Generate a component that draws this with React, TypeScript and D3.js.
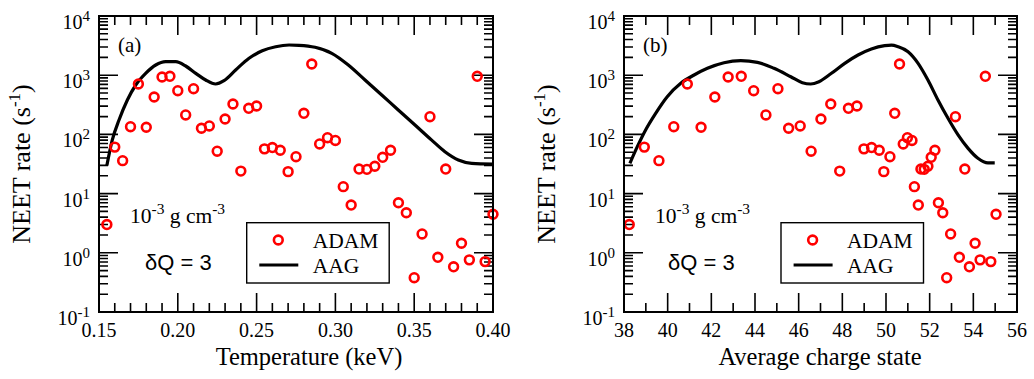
import React from "react";
import * as d3 from "d3";

// ADAM rates, sampled every 5 eV in temperature
const temperature = [
  0.155, 0.16, 0.165, 0.17, 0.175, 0.18, 0.185, 0.19, 0.195, 0.2,
  0.205, 0.21, 0.215, 0.22, 0.225, 0.23, 0.235, 0.24, 0.245, 0.25,
  0.255, 0.26, 0.265, 0.27, 0.275, 0.28, 0.285, 0.29, 0.295, 0.3,
  0.305, 0.31, 0.315, 0.32, 0.325, 0.33, 0.335, 0.34, 0.345, 0.35,
  0.355, 0.36, 0.365, 0.37, 0.375, 0.38, 0.385, 0.39, 0.395, 0.4,
];
const chargeState = [
  38.24, 38.93, 39.6, 40.28, 40.9, 41.53, 42.16, 42.77, 43.37, 43.94,
  44.5, 45.05, 45.54, 46.07, 46.57, 47.02, 47.47, 47.88, 48.28, 48.67,
  48.99, 49.34, 49.69, 49.9, 50.18, 50.4, 50.62, 50.79, 50.98, 51.19,
  51.3, 51.48, 51.6, 51.75, 51.92, 52.07, 52.24, 52.4, 52.6, 52.78,
  52.96, 53.18, 53.36, 53.61, 53.82, 54.08, 54.31, 54.55, 54.8, 55.04,
];
const adamRate = [
  3.0, 61, 36, 135, 710, 132, 428, 933, 958, 547,
  213, 592, 127, 139, 52, 182, 326, 24, 276, 302,
  57, 60, 54, 23.5, 42, 227, 1545, 69, 88, 79,
  13.1, 6.4, 26, 25.7, 29, 41, 54, 7.0, 4.75, 0.38,
  2.08, 199, 0.84, 26, 0.58, 1.45, 0.76, 958, 0.71, 4.47,
];

// AAG model curve against temperature
const aagTemperature = [
  0.155, 0.1584, 0.1627, 0.168, 0.1733, 0.1796, 0.186, 0.1923, 0.1987, 0.205,
  0.2114, 0.2177, 0.224, 0.2293, 0.2367, 0.2452, 0.2536, 0.2621, 0.2706, 0.2769,
  0.2871, 0.2977, 0.3082, 0.3188, 0.3294, 0.3399, 0.3505, 0.3611, 0.3695, 0.378,
  0.3865, 0.4,
];
const aagRateT = [
  30, 80, 175, 381, 683, 1076, 1487, 1690, 1690, 1430,
  1076, 830, 710, 807, 1224, 1929, 2594, 3030, 3236, 3200,
  2960, 2344, 1487, 830, 463, 258, 144, 80, 51, 37,
  32.5, 31.6,
];

// AAG model curve against average charge state
const aagCharge = [
  38.27, 38.61, 38.99, 39.45, 39.98, 40.6, 41.21, 41.82, 42.58, 43.35,
  44.11, 44.87, 45.64, 46.17, 46.55, 46.93, 47.5, 48.11, 48.72, 49.33,
  49.94, 50.25, 50.55, 51.01, 51.47, 51.92, 52.38, 52.84, 53.3, 53.76,
  54.21, 54.67, 54.98,
];
const aagRateQ = [
  32.5, 62, 119, 227, 433, 730, 1008, 1308, 1626, 1758,
  1651, 1308, 943, 747, 710, 777, 1076, 1588, 2193, 2770,
  3150, 3220, 3030, 2494, 1588, 830, 381, 187, 98, 58,
  39.5, 33, 33,
];

const yExponents = [-1, 0, 1, 2, 3, 4];
const tempTicks = [0.15, 0.2, 0.25, 0.3, 0.35, 0.4];
const chargeTicks = [38, 40, 42, 44, 46, 48, 50, 52, 54, 56];

const SERIF = "'Liberation Serif', 'Times New Roman', serif";
const SANS = "'Liberation Sans', Arial, sans-serif";

type PanelProps = {
  left: number;
  right: number;
  xDomain: [number, number];
  majorTicks: number[];
  minorStep: number;
  tickFormat: (v: number) => string;
  xs: number[];
  curveX: number[];
  curveY: number[];
  tag: string;
  xTitle: string;
  xTitleX: number;
  legendX: number;
  densityX: number;
  dqX: number;
};

const TOP = 16;
const BOTTOM = 312;
const MAJOR = 19;
const MINOR = 9;

function Panel(p: PanelProps) {
  const x = d3.scaleLinear().domain(p.xDomain).range([p.left, p.right]);
  const y = d3.scaleLog().domain([0.1, 10000]).range([BOTTOM, TOP]);

  const minorX: number[] = [];
  const nMinor = Math.round((p.xDomain[1] - p.xDomain[0]) / p.minorStep);
  for (let i = 0; i <= nMinor; i++) {
    const v = p.xDomain[0] + i * p.minorStep;
    if (!p.majorTicks.some((m) => Math.abs(m - v) < p.minorStep / 10)) minorX.push(v);
  }
  const minorY: number[] = [];
  for (let e = -1; e < 4; e++) for (let k = 2; k <= 9; k++) minorY.push(k * Math.pow(10, e));

  const line = d3
    .line<number>()
    .x((_, i) => x(p.curveX[i]))
    .y((d) => y(d))
    .curve(d3.curveMonotoneX);

  const tickPaths: string[] = [];
  p.majorTicks.forEach((v) => {
    const px = x(v);
    tickPaths.push(`M${px},${BOTTOM}v${-MAJOR}M${px},${TOP}v${MAJOR}`);
  });
  minorX.forEach((v) => {
    const px = x(v);
    tickPaths.push(`M${px},${BOTTOM}v${-MINOR}M${px},${TOP}v${MINOR}`);
  });
  yExponents.forEach((e) => {
    const py = y(Math.pow(10, e));
    tickPaths.push(`M${p.left},${py}h${MAJOR}M${p.right},${py}h${-MAJOR}`);
  });
  minorY.forEach((v) => {
    const py = y(v);
    tickPaths.push(`M${p.left},${py}h${MINOR}M${p.right},${py}h${-MINOR}`);
  });

  const midY = (TOP + BOTTOM) / 2;
  const legTop = 222.7;

  return (
    <g>
      <path d={tickPaths.join("")} stroke="#000" strokeWidth={1.6} fill="none" />
      <path d={line(p.curveY) || ""} stroke="#000" strokeWidth={3.2} fill="none" strokeLinejoin="round" />
      {p.xs.map((v, i) => (
        <circle key={i} cx={x(v)} cy={y(adamRate[i])} r={4.4} fill="none" stroke="#ff0000" strokeWidth={2.6} />
      ))}
      <rect x={p.left} y={TOP} width={p.right - p.left} height={BOTTOM - TOP} fill="none" stroke="#000" strokeWidth={2} />

      {/* y tick labels */}
      {yExponents.map((e) => (
        <text key={e} x={p.left - 9} y={y(Math.pow(10, e)) + 13} textAnchor="end" fontFamily={SERIF} fontSize={20}>
          10<tspan dy={-8} fontSize={15}>{e}</tspan>
        </text>
      ))}
      {/* x tick labels */}
      {p.majorTicks.map((v) => (
        <text key={v} x={x(v)} y={337} textAnchor="middle" fontFamily={SERIF} fontSize={20}>
          {p.tickFormat(v)}
        </text>
      ))}
      <text x={p.xTitleX} y={365} textAnchor="middle" fontFamily={SERIF} fontSize={24.5}>
        {p.xTitle}
      </text>
      <text
        transform={`translate(${p.left - 69},${midY}) rotate(-90)`}
        textAnchor="middle"
        fontFamily={SERIF}
        fontSize={26}
      >
        NEET rate (s<tspan dy={-10} fontSize={17}>-1</tspan>
        <tspan dy={10}>)</tspan>
      </text>

      <text x={p.left + 19} y={52} fontFamily={SERIF} fontSize={21}>
        {p.tag}
      </text>
      <text x={p.densityX} y={223} fontFamily={SERIF} fontSize={21.5}>
        10<tspan dy={-9} fontSize={15.5}>-3</tspan>
        <tspan dy={9}> g cm</tspan>
        <tspan dy={-9} fontSize={15.5}>-3</tspan>
      </text>
      <text x={p.dqX} y={270} fontFamily={SANS} fontSize={22}>
        δQ = 3
      </text>

      {/* legend */}
      <rect x={p.legendX} y={legTop} width={142.5} height={60.3} fill="#fff" stroke="#000" strokeWidth={1.4} />
      <circle cx={p.legendX + 31.6} cy={legTop + 17.3} r={4.4} fill="none" stroke="#ff0000" strokeWidth={2.6} />
      <text x={p.legendX + 66} y={legTop + 25.6} fontFamily={SERIF} fontSize={21.5}>
        ADAM
      </text>
      <line x1={p.legendX + 12.6} x2={p.legendX + 51.6} y1={legTop + 42.3} y2={legTop + 42.3} stroke="#000" strokeWidth={3.2} />
      <text x={p.legendX + 66} y={legTop + 50.6} fontFamily={SERIF} fontSize={21.5}>
        AAG
      </text>
    </g>
  );
}

export default function App() {
  return (
    <svg
      width={1034}
      height={379}
      viewBox="0 0 1034 379"
      style={{ position: "absolute", left: 0, top: 0, background: "#fff" }}
    >
      <rect width={1034} height={379} fill="#fff" />
      <Panel
        left={99}
        right={493}
        xDomain={[0.15, 0.4]}
        majorTicks={tempTicks}
        minorStep={0.01}
        tickFormat={d3.format(".2f")}
        xs={temperature}
        curveX={aagTemperature}
        curveY={aagRateT}
        tag="(a)"
        xTitle="Temperature (keV)"
        xTitleX={309}
        legendX={246.7}
        densityX={130}
        dqX={145}
      />
      <Panel
        left={624}
        right={1017}
        xDomain={[38, 56]}
        majorTicks={chargeTicks}
        minorStep={1}
        tickFormat={d3.format("d")}
        xs={chargeState}
        curveX={aagCharge}
        curveY={aagRateQ}
        tag="(b)"
        xTitle="Average charge state"
        xTitleX={820}
        legendX={781}
        densityX={655}
        dqX={668}
      />
    </svg>
  );
}
